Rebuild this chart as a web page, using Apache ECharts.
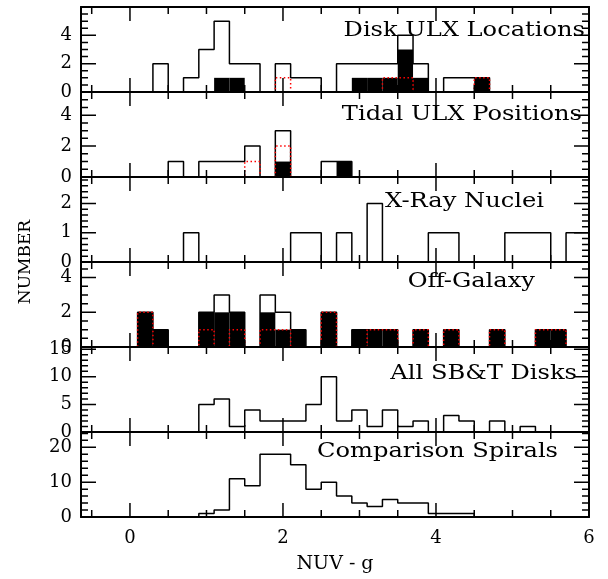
<!DOCTYPE html>
<html>
<head>
<meta charset="utf-8">
<script src="https://cdn.jsdelivr.net/npm/echarts@6/dist/echarts.min.js"></script>
<style>
html, body { margin: 0; padding: 0; background: #fff; }
#chart { width: 608px; height: 579px; }
</style>
</head>
<body>
<div id="chart"></div>
<script>
// histogram bins (NUV - g), 0.2 wide, given by their centres
const binCenters = [0.0, 0.2, 0.4, 0.6, 0.8, 1.0, 1.2, 1.4, 1.6, 1.8, 2.0, 2.2, 2.4, 2.6, 2.8, 3.0,
  3.2, 3.4, 3.6, 3.8, 4.0, 4.2, 4.4, 4.6, 4.8, 5.0, 5.2, 5.4, 5.6, 5.8, 6.0];
const binWidth = 0.2;

const panelNames = ['Disk ULX Locations', 'Tidal ULX Positions', 'X-Ray Nuclei',
  'Off-Galaxy', 'All SB&T Disks', 'Comparison Spirals'];

//                  0.0     0.4     0.8     1.2     1.6     2.0     2.4     2.8     3.2     3.6     4.0     4.4     4.8     5.2     5.6     6.0
const diskAll     = [0, 0, 2, 0, 1, 3, 5, 2, 2, 0, 2, 1, 1, 0, 2, 2, 2, 2, 4, 2, 0, 1, 1, 1, 0, 0, 0, 0, 0, 0, 0];
const diskFilled  = [0, 0, 0, 0, 0, 0, 1, 1, 0, 0, 0, 0, 0, 0, 0, 1, 1, 1, 3, 1, 0, 0, 0, 1, 0, 0, 0, 0, 0, 0, 0];
const diskDotted  = [0, 0, 0, 0, 0, 0, 0, 0, 0, 0, 1, 0, 0, 0, 0, 0, 0, 1, 1, 0, 0, 0, 0, 1, 0, 0, 0, 0, 0, 0, 0];

const tidalAll    = [0, 0, 0, 1, 0, 1, 1, 1, 2, 0, 3, 0, 0, 1, 1, 0, 0, 0, 0, 0, 0, 0, 0, 0, 0, 0, 0, 0, 0, 0, 0];
const tidalFilled = [0, 0, 0, 0, 0, 0, 0, 0, 0, 0, 1, 0, 0, 0, 1, 0, 0, 0, 0, 0, 0, 0, 0, 0, 0, 0, 0, 0, 0, 0, 0];
const tidalDotted = [0, 0, 0, 0, 0, 0, 0, 0, 1, 0, 2, 0, 0, 0, 0, 0, 0, 0, 0, 0, 0, 0, 0, 0, 0, 0, 0, 0, 0, 0, 0];

const nucleiAll   = [0, 0, 0, 0, 1, 0, 0, 0, 0, 0, 0, 1, 1, 0, 1, 0, 2, 0, 0, 0, 1, 1, 0, 0, 0, 1, 1, 1, 0, 1, 1];

const offAll      = [0, 2, 1, 0, 0, 2, 3, 2, 0, 3, 2, 1, 0, 2, 0, 1, 1, 1, 0, 1, 0, 1, 0, 0, 1, 0, 0, 1, 1, 0, 0];
const offFilled   = [0, 2, 1, 0, 0, 2, 2, 2, 0, 2, 1, 1, 0, 2, 0, 1, 1, 1, 0, 1, 0, 1, 0, 0, 1, 0, 0, 1, 1, 0, 0];
const offDotted   = [0, 2, 0, 0, 0, 1, 0, 1, 0, 1, 1, 0, 0, 2, 0, 0, 1, 1, 0, 1, 0, 1, 0, 0, 1, 0, 0, 1, 1, 0, 0];

const sbtAll      = [0, 0, 0, 0, 0, 5, 6, 1, 4, 2, 2, 2, 5, 10, 2, 4, 1, 4, 1, 2, 0, 3, 2, 0, 2, 0, 1, 0, 0, 0, 0];

const spiralAll   = [0, 0, 0, 0, 0, 1, 2, 11, 9, 18, 18, 15, 8, 10, 6, 4, 3, 5, 4, 4, 1, 1, 1, 0, 0, 0, 0, 0, 0, 0, 0];

const panels = [
  { all: diskAll, filled: diskFilled, dotted: diskDotted },
  { all: tidalAll, filled: tidalFilled, dotted: tidalDotted },
  { all: nucleiAll },
  { all: offAll, filled: offFilled, dotted: offDotted },
  { all: sbtAll },
  { all: spiralAll }
];

const yMax = [6, 5.5, 2.9, 4.9, 15.4, 24.4];
const yLabels = [[0, 2, 4], [0, 2, 4], [0, 1, 2], [0, 2, 4], [0, 5, 10, 15], [0, 10, 20]];
const yMinorStep = [0.5, 0.5, 0.2, 0.5, 1, 2];
const xMin = -0.64, xMax = 6;
const xLabels = [0, 2, 4, 6];
const xMinor = [-0.5, 0.5, 1, 1.5, 2.5, 3, 3.5, 4.5, 5, 5.5];

const panelTop = [7, 92, 177, 262, 347, 432];
const panelHeight = 85;
const plotLeft = 81, plotRight = 19, plotWidth = 608 - plotLeft - plotRight;
const titleRight = [585, 582, 544, 535, 577, 558];
const titleMid = [31, 115, 202, 282, 374, 452];

const font = 'DejaVu Serif';
const majorLen = 14, minorLen = 7;

function minorTicks(max, step, majors) {
  const out = [];
  for (let k = 1; k * step < max - 1e-9; k++) {
    const v = Math.round(k * step * 100) / 100;
    if (majors.indexOf(v) < 0) out.push(v);
  }
  return out;
}

function xAxisFor(i, pos, labelled) {
  const a = {
    gridIndex: i, type: 'value', position: pos, min: xMin, max: xMax, z: 10,
    axisLine: { show: true, onZero: false, lineStyle: { color: '#000', width: 2 } },
    splitLine: { show: false }, axisTick: { show: false },
    axisLabel: { show: false }
  };
  if (labelled) {
    a.axisLabel = { show: true, color: '#000', fontFamily: font, fontSize: 18, margin: 12,
      formatter: v => (xLabels.indexOf(v) >= 0 ? String(v) : '') };
    a.name = 'NUV - g';
    a.nameLocation = 'middle';
    a.nameGap = 38;
    a.nameTextStyle = { color: '#000', fontFamily: font, fontSize: 19 };
  }
  return a;
}

function yAxisFor(i, pos, labelled) {
  const a = {
    gridIndex: i, type: 'value', position: pos, min: 0, max: yMax[i], z: 10,
    axisLine: { show: true, onZero: false, lineStyle: { color: '#000', width: 2 } },
    splitLine: { show: false }, axisTick: { show: false },
    axisLabel: { show: false }
  };
  if (labelled) {
    a.axisLabel = { show: true, customValues: yLabels[i], color: '#000',
      fontFamily: font, fontSize: 18, margin: 9 };
  }
  return a;
}

// tick marks of one panel as a single path running round the frame;
// the parts lying on the frame are hidden under the axis lines
function framePath(i) {
  const hx = len => len * yMax[i] / panelHeight;           // px -> y units
  const wy = len => len * (xMax - xMin) / plotWidth;       // px -> x units
  const xt = xLabels.map(v => [v, majorLen]).concat(xMinor.map(v => [v, minorLen]))
    .sort((a, b) => a[0] - b[0]);
  const yt = yLabels[i].filter(v => v > 0).map(v => [v, majorLen + 1])
    .concat(minorTicks(yMax[i], yMinorStep[i], yLabels[i]).map(v => [v, minorLen]))
    .sort((a, b) => a[0] - b[0]);
  const top = yMax[i];
  const pts = [[xMin, 0]];
  xt.forEach(([v, l]) => { pts.push([v, 0], [v, hx(l)], [v, 0]); });
  pts.push([xMax, 0]);
  yt.forEach(([v, l]) => { pts.push([xMax, v], [xMax - wy(l), v], [xMax, v]); });
  pts.push([xMax, top]);
  xt.slice().reverse().forEach(([v, l]) => { pts.push([v, top], [v, top - hx(l)], [v, top]); });
  pts.push([xMin, top]);
  yt.slice().reverse().forEach(([v, l]) => { pts.push([xMin, v], [xMin + wy(l), v], [xMin, v]); });
  pts.push([xMin, 0]);
  return pts;
}

const grids = [], xAxes = [], yAxes = [], series = [], graphics = [];

panels.forEach((p, i) => {
  grids.push({ left: plotLeft, right: plotRight, top: panelTop[i], height: panelHeight });
  const last = i === panels.length - 1;
  const xi = xAxes.length, yi = yAxes.length;

  xAxes.push(xAxisFor(i, 'bottom', last));
  xAxes.push(xAxisFor(i, 'top', false));
  yAxes.push(yAxisFor(i, 'left', true));
  yAxes.push(yAxisFor(i, 'right', false));

  if (p.filled) {
    series.push({
      type: 'custom', xAxisIndex: xi, yAxisIndex: yi, z: 2,
      data: binCenters.map((c, k) => [c, p.filled[k]]).filter(d => d[1] > 0),
      renderItem: function (params, api) {
        const x = api.value(0), h = api.value(1);
        const a = api.coord([x - binWidth / 2, h]);
        const b = api.coord([x + binWidth / 2, 0]);
        return { type: 'rect', shape: { x: a[0], y: a[1], width: b[0] - a[0], height: b[1] - a[1] },
          style: { fill: '#000' } };
      }
    });
  }
  series.push({
    type: 'line', xAxisIndex: xi, yAxisIndex: yi, z: 3, step: 'middle',
    symbol: 'none', lineStyle: { color: '#000', width: 1.5 },
    data: binCenters.map((c, k) => [c, p.all[k]])
  });
  if (p.dotted) {
    series.push({
      type: 'line', xAxisIndex: xi, yAxisIndex: yi, z: 4, step: 'middle',
      symbol: 'none', lineStyle: { color: '#ff0000', width: 1.5, type: [1.5, 2.5] },
      data: binCenters.map((c, k) => [c, p.dotted[k]])
    });
  }
  // frame tick marks
  series.push({
    type: 'line', xAxisIndex: xi, yAxisIndex: yi, z: 5, silent: true,
    symbol: 'none', lineStyle: { color: '#000', width: 1.5, cap: 'butt', join: 'bevel' },
    data: framePath(i)
  });

  graphics.push({
    type: 'text', x: titleRight[i], y: titleMid[i], scaleX: 1.15, z: 20,
    style: { text: panelNames[i], fill: '#000', font: '21px "DejaVu Serif"',
      align: 'right', verticalAlign: 'middle' }
  });
});

// one invisible frame over all panels, carrying the shared y title
grids.push({ left: plotLeft, right: plotRight, top: panelTop[0], height: panelHeight * 6 });
xAxes.push({ gridIndex: 6, type: 'value', show: false, min: 0, max: 1 });
yAxes.push({
  gridIndex: 6, type: 'value', min: 0, max: 1, position: 'left',
  axisLine: { show: false }, axisTick: { show: false }, axisLabel: { show: false },
  splitLine: { show: false },
  name: 'NUMBER', nameLocation: 'middle', nameGap: 47,
  nameTextStyle: { color: '#000', fontFamily: font, fontSize: 17 }
});

const chart = echarts.init(document.getElementById('chart'));
chart.setOption({
  animation: false,
  backgroundColor: '#fff',
  grid: grids,
  xAxis: xAxes,
  yAxis: yAxes,
  series: series,
  graphic: graphics
});
</script>
</body>
</html>
